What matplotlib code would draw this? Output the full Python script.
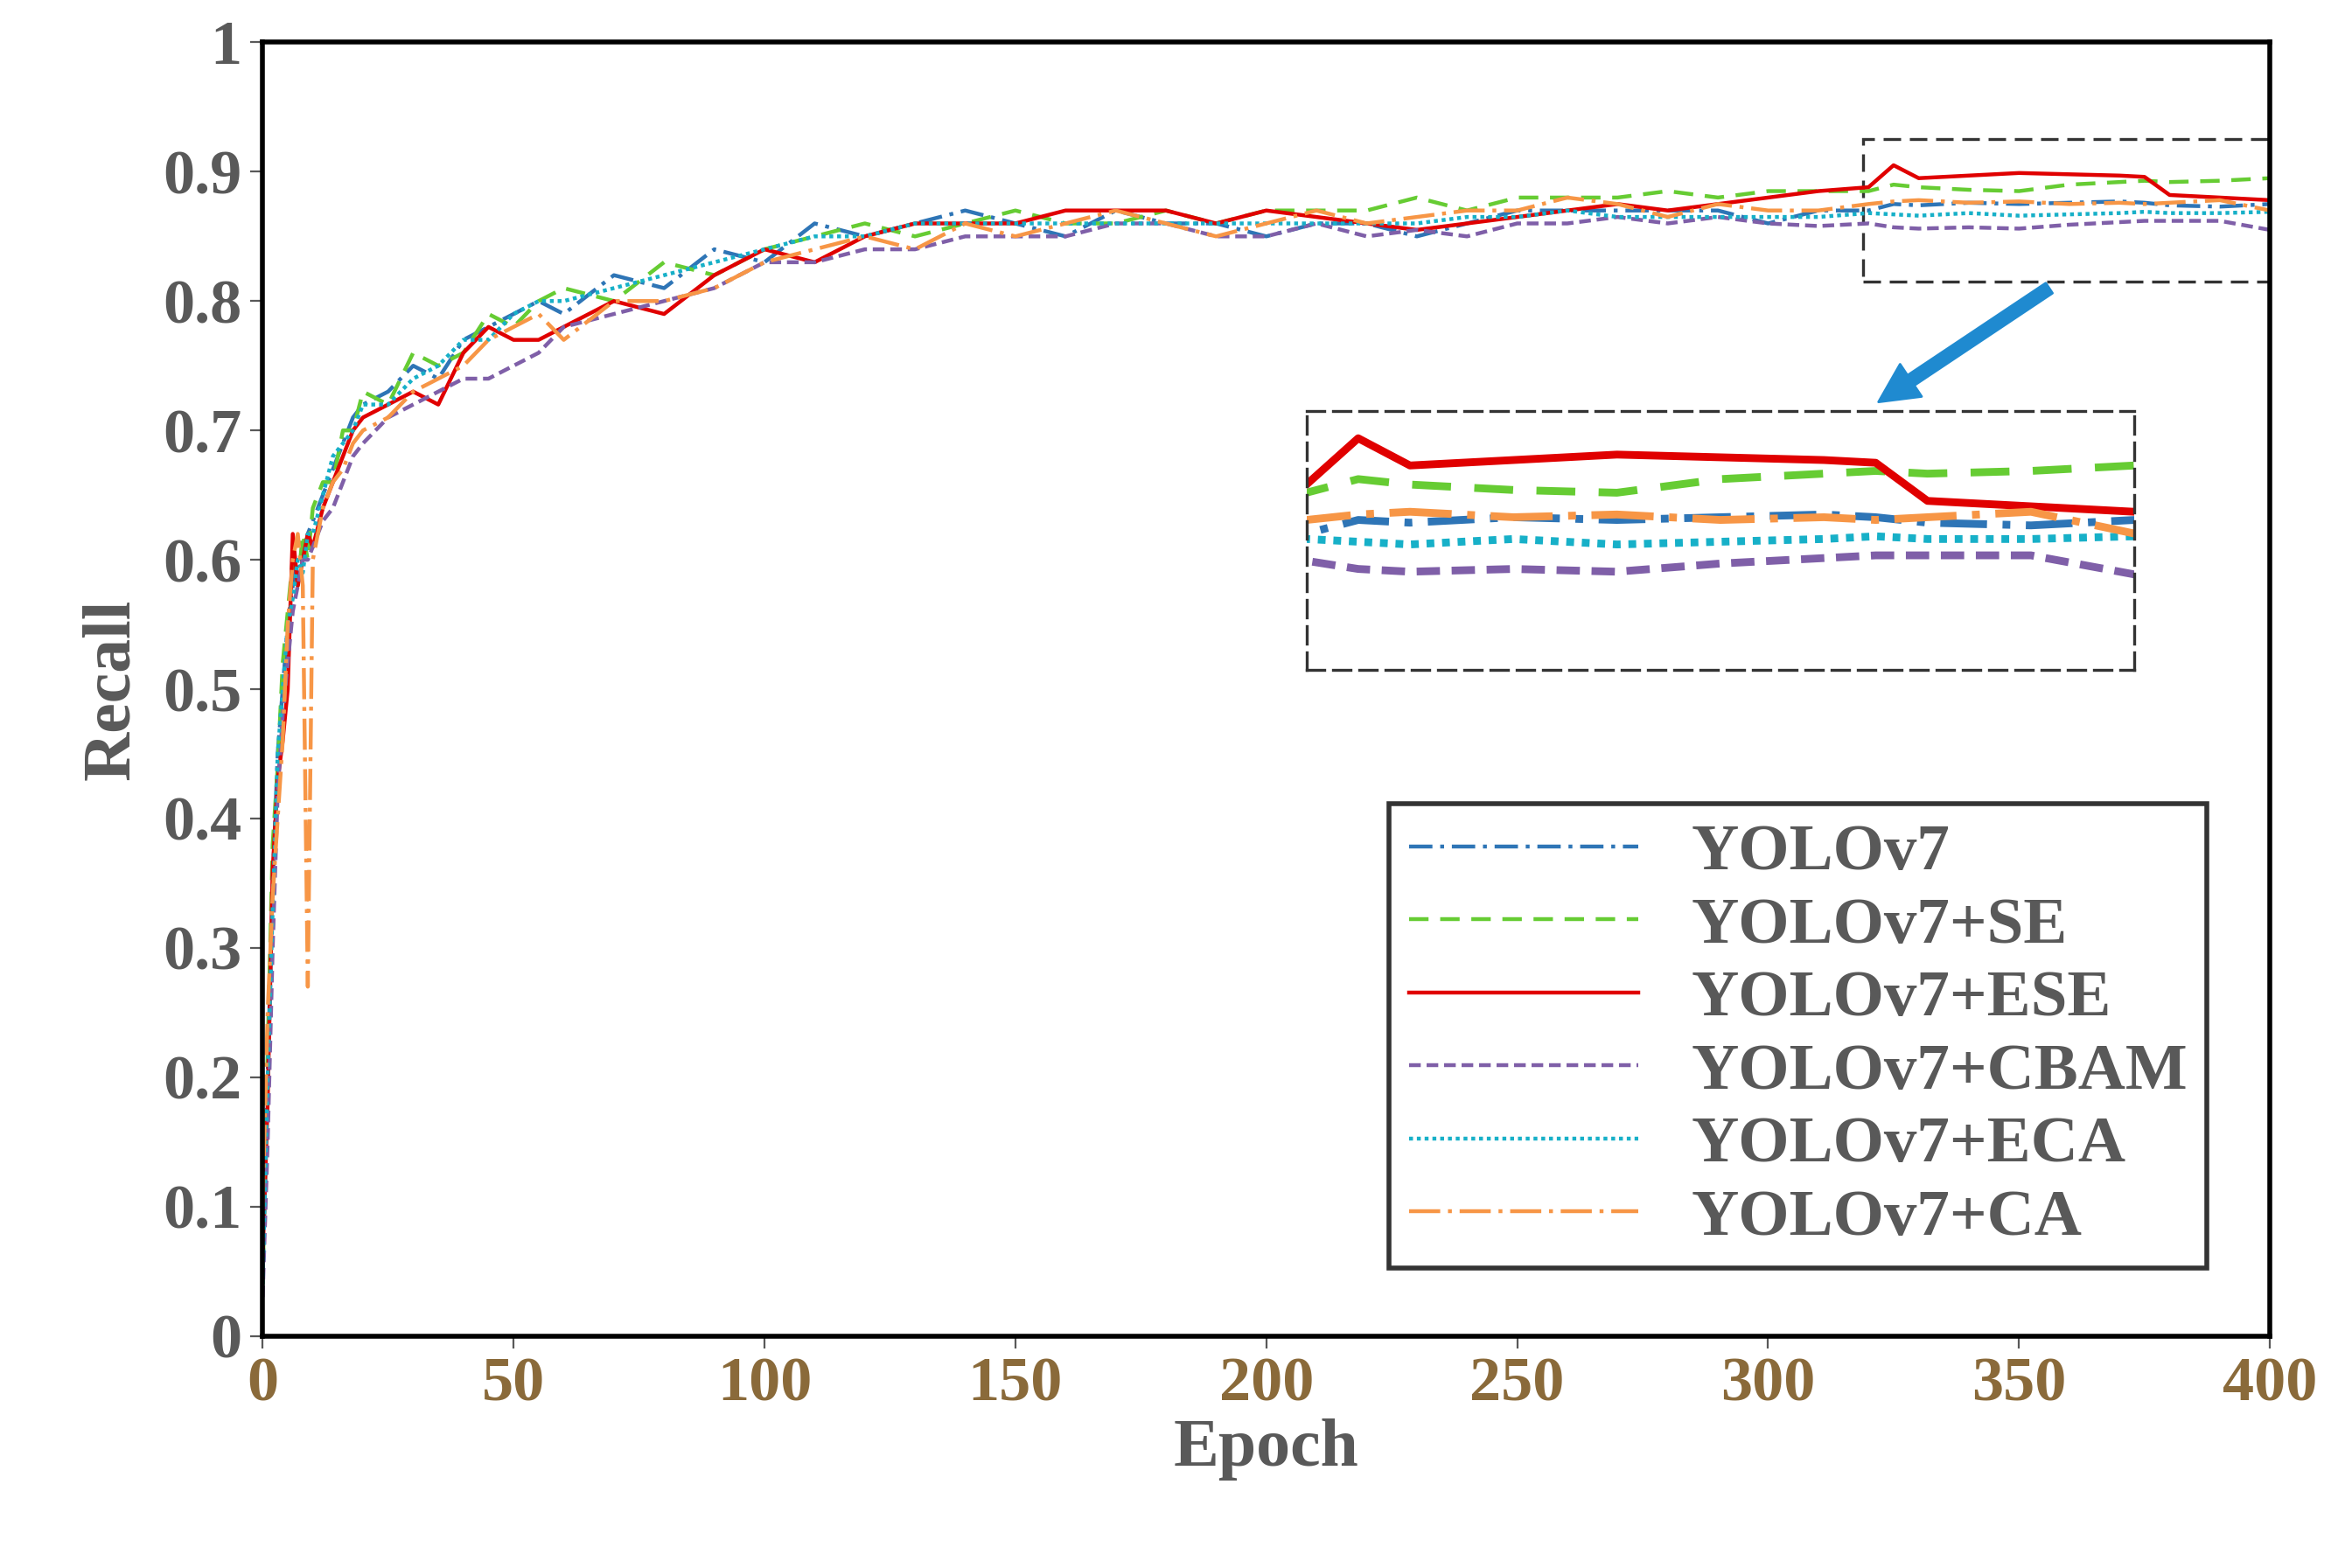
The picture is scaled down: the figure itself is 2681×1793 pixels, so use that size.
import matplotlib.pyplot as plt
from matplotlib.patches import Rectangle

plt.rcParams["font.family"] = "Liberation Serif"
plt.rcParams["font.weight"] = "bold"
plt.rcParams["axes.labelweight"] = "bold"
GRAY = "#595959"

epochs = [0, 1, 2, 3, 4, 5, 6, 7, 8, 9, 10,
          12, 14, 16, 18, 20,
          25, 30, 35, 40, 45, 50, 55, 60,
          70, 80, 90, 100, 110, 120, 130, 140, 150, 160, 170, 180, 190,
          200, 210, 220, 230, 240, 250, 260, 270, 280, 290, 300, 310, 320,
          325, 330, 340, 350, 360, 370, 375, 380, 390, 400]

yolov7 = [0.05, 0.2, 0.35, 0.45, 0.5, 0.55, 0.58, 0.6, 0.6, 0.62, 0.63,
          0.65, 0.67, 0.69, 0.71, 0.72,
          0.73, 0.75, 0.74, 0.77, 0.78, 0.79, 0.8, 0.79,
          0.82, 0.81, 0.84, 0.83, 0.86, 0.85, 0.86, 0.87, 0.86, 0.85, 0.87, 0.86, 0.86,
          0.85, 0.86, 0.86, 0.85, 0.86, 0.87, 0.87, 0.87, 0.87, 0.87, 0.86, 0.87, 0.87,
          0.875, 0.874, 0.876, 0.875, 0.876, 0.877, 0.876, 0.874, 0.873, 0.875]
yolov7_se = [0.04, 0.22, 0.38, 0.44, 0.52, 0.56, 0.6, 0.58, 0.62, 0.6, 0.64,
             0.66, 0.66, 0.7, 0.7, 0.73,
             0.72, 0.76, 0.75, 0.76, 0.79, 0.78, 0.8, 0.81,
             0.8, 0.83, 0.82, 0.84, 0.85, 0.86, 0.85, 0.86, 0.87, 0.86, 0.86, 0.87, 0.86,
             0.87, 0.87, 0.87, 0.88, 0.87, 0.88, 0.88, 0.88, 0.885, 0.88, 0.885, 0.885, 0.885,
             0.89, 0.888, 0.886, 0.885, 0.89, 0.892, 0.893, 0.892, 0.893, 0.895]
yolov7_ese = [0.06, 0.18, 0.36, 0.43, 0.46, 0.5, 0.62, 0.58, 0.6, 0.62, 0.61,
              0.64, 0.66, 0.68, 0.7, 0.71,
              0.72, 0.73, 0.72, 0.76, 0.78, 0.77, 0.77, 0.78,
              0.8, 0.79, 0.82, 0.84, 0.83, 0.85, 0.86, 0.86, 0.86, 0.87, 0.87, 0.87, 0.86,
              0.87, 0.865, 0.86, 0.855, 0.86, 0.865, 0.87, 0.875, 0.87, 0.875, 0.88, 0.885, 0.888,
              0.905, 0.895, 0.897, 0.899, 0.898, 0.897, 0.896, 0.882, 0.88, 0.878]
yolov7_cbam = [0.03, 0.15, 0.3, 0.42, 0.48, 0.52, 0.56, 0.58, 0.6, 0.6, 0.61,
               0.63, 0.64, 0.66, 0.68, 0.69,
               0.71, 0.72, 0.73, 0.74, 0.74, 0.75, 0.76, 0.78,
               0.79, 0.8, 0.81, 0.83, 0.83, 0.84, 0.84, 0.85, 0.85, 0.85, 0.86, 0.86, 0.85,
               0.85, 0.86, 0.85, 0.855, 0.85, 0.86, 0.86, 0.865, 0.86, 0.865, 0.86, 0.858, 0.86,
               0.857, 0.856, 0.857, 0.856, 0.859, 0.861, 0.862, 0.862, 0.862, 0.855]
yolov7_eca = [0.04, 0.2, 0.33, 0.45, 0.5, 0.55, 0.57, 0.6, 0.59, 0.62, 0.62,
              0.65, 0.68, 0.69, 0.7, 0.72,
              0.72, 0.74, 0.75, 0.77, 0.77, 0.79, 0.8, 0.8,
              0.81, 0.82, 0.83, 0.84, 0.85, 0.85, 0.86, 0.86, 0.86, 0.86, 0.86, 0.86, 0.86,
              0.86, 0.86, 0.86, 0.86, 0.865, 0.865, 0.87, 0.865, 0.865, 0.865, 0.865, 0.865, 0.868,
              0.867, 0.866, 0.868, 0.866, 0.867, 0.868, 0.869, 0.868, 0.868, 0.869]
yolov7_ca = [0.1, 0.25, 0.34, 0.4, 0.46, 0.55, 0.6, 0.62, 0.58, 0.27, 0.6,
             0.64, 0.66, 0.67, 0.69, 0.7,
             0.71, 0.73, 0.74, 0.75, 0.77, 0.78, 0.79, 0.77,
             0.8, 0.8, 0.81, 0.83, 0.84, 0.85, 0.84, 0.86, 0.85, 0.86, 0.87, 0.86, 0.85,
             0.86, 0.87, 0.86, 0.865, 0.87, 0.87, 0.88, 0.875, 0.865, 0.875, 0.87, 0.87, 0.875,
             0.877, 0.878, 0.876, 0.877, 0.875, 0.876, 0.875, 0.876, 0.878, 0.87]

series = [
    ("YOLOv7", yolov7, "#2e75b6", (0, (6, 2, 1, 2))),
    ("YOLOv7+SE", yolov7_se, "#66cc33", (0, (5, 3))),
    ("YOLOv7+ESE", yolov7_ese, "#e00000", "-"),
    ("YOLOv7+CBAM", yolov7_cbam, "#7f5fa8", (0, (3, 1.5))),
    ("YOLOv7+ECA", yolov7_eca, "#17b0c8", (0, (1, 1))),
    ("YOLOv7+CA", yolov7_ca, "#f79646", (0, (8, 2, 1, 2))),
]

fig = plt.figure(figsize=(13.405, 8.965), dpi=200)
ax = fig.add_axes([0.112, 0.148, 0.856, 0.825])
for name, vals, col, ls in series:
    ax.plot(epochs, vals, color=col, linestyle=ls, lw=1.6, label=name)

ax.set_xlim(0, 400)
ax.set_ylim(0, 1)
ax.set_xticks(range(0, 401, 50))
ax.set_yticks([i / 10 for i in range(11)])
ax.set_yticklabels(["0"] + [f"{i/10:.1f}" for i in range(1, 10)] + ["1"])
ax.tick_params(labelsize=26, colors=GRAY, length=5, direction="out")
for lab in ax.get_xticklabels():
    lab.set_color("#8a6a3a")
for s in ax.spines.values():
    s.set_linewidth(2)
ax.set_xlabel("Epoch", fontsize=28, color=GRAY, labelpad=2, fontweight="bold")
ax.set_ylabel("Recall", fontsize=28, color=GRAY, labelpad=8, fontweight="bold")

# zoom frame on main axes
ax.add_patch(Rectangle((319, 0.815), 81, 0.11, fill=False, ls=(0, (6, 3)), lw=1.2, ec="#333333"))
ax.annotate("", xy=(322, 0.722), xytext=(356, 0.81),
            arrowprops=dict(facecolor="#1f8ad0", edgecolor="#1f8ad0", width=5, headwidth=16, headlength=16))

# inset
ins = ax.inset_axes([208, 0.515, 165, 0.2], transform=ax.transData)
for name, vals, col, ls in series:
    ins.plot(epochs, vals, color=col, linestyle=ls, lw=3.2)
ins.set_xlim(320, 400)
ins.set_ylim(0.82, 0.915)
ins.set_xticks([])
ins.set_yticks([])
for s in ins.spines.values():
    s.set_linestyle((0, (6, 3)))
    s.set_linewidth(1.2)
    s.set_edgecolor("#333333")

leg = ax.legend(loc="lower right", bbox_to_anchor=(0.985, 0.027), fontsize=27, frameon=True,
                fancybox=False, edgecolor="black", handlelength=3.5, labelspacing=0.2,
                borderpad=0.3)
leg.get_frame().set_linewidth(2)
for t in leg.get_texts():
    t.set_color(GRAY)

fig.savefig("out.png")
